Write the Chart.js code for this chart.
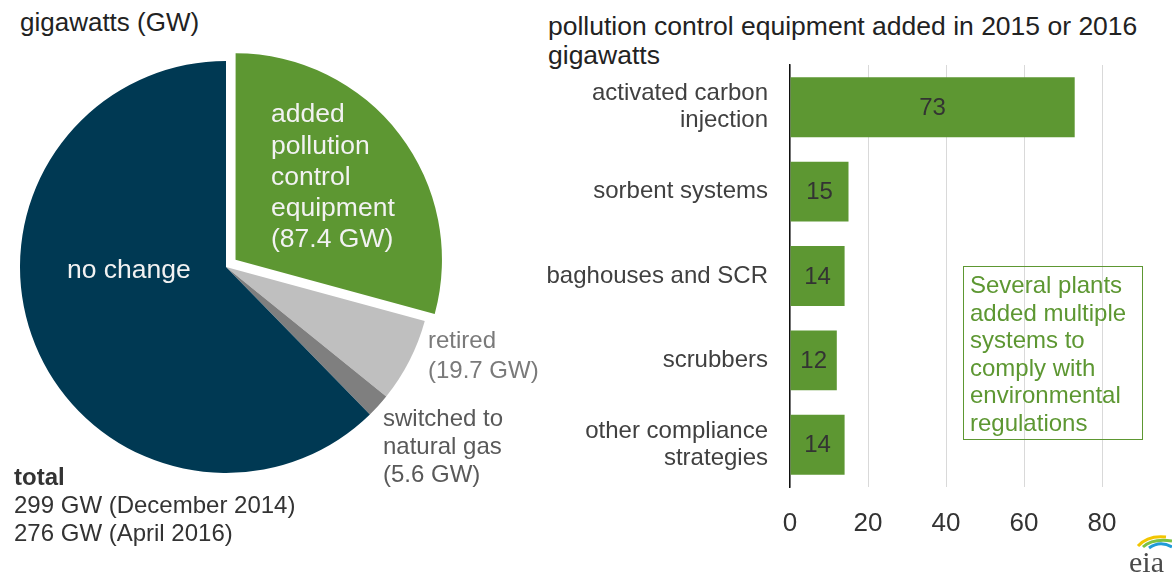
<!DOCTYPE html>
<html>
<head>
<meta charset="utf-8">
<script src="https://cdn.jsdelivr.net/npm/chart.js@4.4.0/dist/chart.umd.min.js"></script>
<style>
  body { margin: 0; background: #fff; font-family: "Liberation Sans", Arial, sans-serif; color: #333; }
  #wrap { position: relative; width: 1172px; height: 575px; overflow: hidden; }
  .txt { position: absolute; white-space: nowrap; }
  #pie-box { position: absolute; left: -4px; top: 37px; width: 460px; height: 460px; }
  #bar-box { position: absolute; left: 540px; top: 60px; width: 632px; height: 480px; }
  #note { position: absolute; left: 963px; top: 266px; width: 172px; height: 168px; border: 1.5px solid #5d9732;
          color: #5d9732; font-size: 24px; line-height: 27.6px; padding: 4px 0 0 6px; }
</style>
</head>
<body>
<div id="wrap">
  <div class="txt" style="left:20px; top:7px; font-size:26px; line-height:30px; color:#222;">gigawatts (GW)</div>
  <div id="pie-box"><canvas id="pie-chart"></canvas></div>

  <div class="txt" style="left:14px; top:463px; font-size:24px; line-height:28px; color:#333;">
    <b>total</b><br>299 GW (December 2014)<br>276 GW (April 2016)
  </div>

  <div class="txt" style="left:548px; top:12px; font-size:26.5px; line-height:28.5px; color:#222;">
    pollution control equipment added in 2015 or 2016<br>gigawatts
  </div>
  <div id="bar-box"><canvas id="bar-chart"></canvas></div>
  <div id="note">Several plants<br>added multiple<br>systems to<br>comply with<br>environmental<br>regulations</div>

  <svg style="position:absolute; left:1122px; top:528px;" width="50" height="47">
    <path d="M16 18 Q26 7 44 9" stroke="#f2c500" stroke-width="3" fill="none"/>
    <path d="M21 19 Q31 10 50 13" stroke="#7cc242" stroke-width="3" fill="none"/>
    <path d="M27 20 Q38 12 50 19" stroke="#1f9bd7" stroke-width="3" fill="none"/>
    <text x="7" y="44" font-family="'Liberation Serif', serif" font-size="30" fill="#4a4a4a">eia</text>
  </svg>
</div>

<script>
// pie: capacity in GW (total 299 GW in Dec 2014)
const pieLabels = ['added pollution control equipment', 'retired', 'switched to natural gas', 'no change'];
const pieValues = [87.4, 19.7, 5.6, 186.3];
const pieColors = ['#5d9732', '#bfbfbf', '#7f7f7f', '#003953'];

// bars: pollution control equipment added, GW
const barLabels = [['activated carbon', 'injection'], 'sorbent systems', 'baghouses and SCR', 'scrubbers', ['other compliance', 'strategies']];
const barValues = [73, 15, 14, 12, 14];
const xTicks = [0, 20, 40, 60, 80];

const FONT = '"Liberation Sans", Arial, sans-serif';

// text inside the pie slices
const pieText = {
  id: 'pieText',
  afterDatasetsDraw(chart) {
    const ctx = chart.ctx;
    const arcs = chart.getDatasetMeta(0).data;
    const cx = arcs[3].x, cy = arcs[3].y;
    ctx.save();
    ctx.textBaseline = 'middle';
    ctx.textAlign = 'left';
    ctx.font = '26.5px ' + FONT;
    ctx.fillStyle = '#f2f2f2';
    ['added', 'pollution', 'control', 'equipment', '(' + pieValues[0] + ' GW)'].forEach((t, i) => {
      ctx.fillText(t, cx + 45, cy - 152 + i * 31.2);
    });
    ctx.fillText('no change', cx - 159, cy + 4);
    ctx.restore();
  }
};

new Chart(document.getElementById('pie-chart'), {
  type: 'pie',
  data: {
    labels: pieLabels,
    datasets: [{
      data: pieValues,
      backgroundColor: pieColors,
      borderWidth: 0,
      offset: [48, 0, 0, 0]   // arc offset is drawn at a quarter of this
    }]
  },
  options: {
    responsive: true,
    maintainAspectRatio: false,
    animation: false,
    layout: { padding: 0 },
    plugins: { legend: { display: false }, tooltip: { enabled: false } }
  },
  plugins: [pieText]
});

// labels outside the pie
document.getElementById('wrap').insertAdjacentHTML('beforeend',
  '<div class="txt" style="left:428px; top:325px; font-size:24px; line-height:30px; color:#7a7a7a;">retired<br>(' + pieValues[1] + ' GW)</div>' +
  '<div class="txt" style="left:383px; top:404px; font-size:24px; line-height:28px; color:#595959;">switched to<br>natural gas<br>(' + pieValues[2] + ' GW)</div>');

// value labels centred in each bar
const barText = {
  id: 'barText',
  afterDatasetsDraw(chart) {
    const ctx = chart.ctx;
    ctx.save();
    ctx.font = '24px ' + FONT;
    ctx.fillStyle = '#333';
    ctx.textAlign = 'center';
    ctx.textBaseline = 'middle';
    chart.getDatasetMeta(0).data.forEach((bar, i) => {
      ctx.fillText(barValues[i], (bar.x + bar.base) / 2, bar.y + 1);
    });
    ctx.restore();
  }
};

new Chart(document.getElementById('bar-chart'), {
  type: 'bar',
  data: {
    labels: barLabels,
    datasets: [{
      data: barValues,
      backgroundColor: '#5d9732',
      categoryPercentage: 1,
      barPercentage: 0.71
    }]
  },
  options: {
    indexAxis: 'y',
    responsive: true,
    maintainAspectRatio: false,
    animation: false,
    layout: { padding: { top: 5, right: 31, left: 0, bottom: 0 } },
    plugins: { legend: { display: false }, tooltip: { enabled: false } },
    scales: {
      x: {
        min: 0,
        max: 90,
        afterBuildTicks: axis => { axis.ticks = xTicks.map(v => ({ value: v })); },
        afterFit: axis => { axis.height = 53; axis.paddingLeft = 0; axis.paddingRight = 0; },
        grid: { color: '#d9d9d9', lineWidth: 1, drawTicks: false },
        border: { display: false },
        ticks: { padding: 21, color: '#333', font: { family: FONT, size: 26 } }
      },
      y: {
        afterFit: axis => { axis.width = 250; axis.paddingTop = 0; axis.paddingBottom = 0; },
        grid: { display: false, drawTicks: false },
        border: { display: true, color: '#111', width: 1.5 },
        ticks: { padding: 22, color: '#404040', font: { family: FONT, size: 24, lineHeight: 1.12 } }
      }
    }
  },
  plugins: [barText]
});
</script>
</body>
</html>
